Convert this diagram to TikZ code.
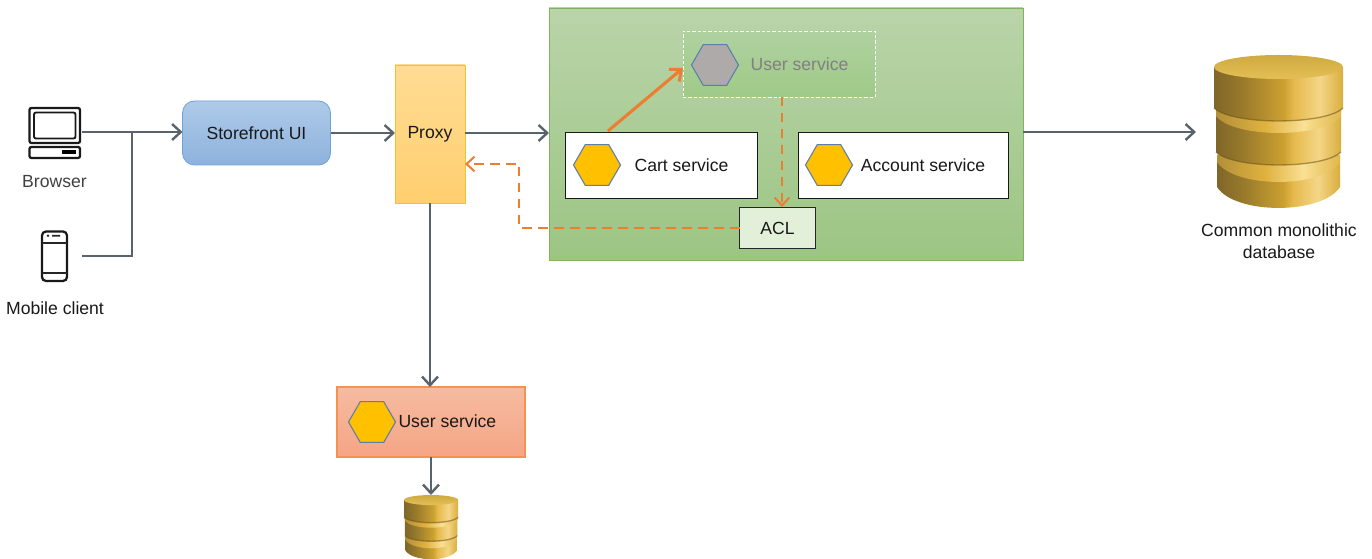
\documentclass[tikz,border=0pt]{standalone}
\usepackage{fontspec}
\setmainfont{Liberation Sans}
\usetikzlibrary{arrows.meta,shapes.geometric,calc}
\def\px{0.75pt}
\definecolor{linegrey}{HTML}{59636E}
\definecolor{accent}{HTML}{ED7D31}
\definecolor{hexgold}{HTML}{FFC000}
\definecolor{hexedge}{HTML}{5B7FA8}
\definecolor{dbtopa}{HTML}{CFAA40}
\definecolor{dbtopb}{HTML}{E3BF55}
\definecolor{dbline}{HTML}{6E5518}
\definecolor{greentop}{HTML}{B9D4A9}
\definecolor{greenbot}{HTML}{9CC583}
\definecolor{greenedge}{HTML}{7FB35F}
\definecolor{storetop}{HTML}{AECAE8}
\definecolor{storebot}{HTML}{8EB2DD}
\definecolor{storeedge}{HTML}{6FA3D8}
\definecolor{proxytop}{HTML}{FFDC93}
\definecolor{proxybot}{HTML}{FFCF70}
\definecolor{proxyedge}{HTML}{F2C230}
\definecolor{usertop}{HTML}{F6BBA0}
\definecolor{userbot}{HTML}{F5A585}
\definecolor{useredge}{HTML}{F5924F}
\definecolor{dashtop}{HTML}{B0D1A0}
\definecolor{dashbot}{HTML}{9FCA87}
\definecolor{ghostfill}{HTML}{AEAAAA}
\definecolor{aclfill}{HTML}{E2EFD9}
\pgfdeclarehorizontalshading{dbbody}{100bp}{
  rgb(0bp)=(0.50,0.40,0.16);
  rgb(25bp)=(0.50,0.40,0.16);
  rgb(36bp)=(0.60,0.48,0.17);
  rgb(52bp)=(0.80,0.63,0.19);
  rgb(56bp)=(0.90,0.73,0.30);
  rgb(66bp)=(0.96,0.84,0.53);
  rgb(75bp)=(0.85,0.68,0.24);
  rgb(100bp)=(0.85,0.68,0.24)}
\pgfdeclarehorizontalshading{dbrim}{100bp}{
  rgb(0bp)=(0.70,0.56,0.22);
  rgb(25bp)=(0.70,0.56,0.22);
  rgb(45bp)=(0.88,0.70,0.25);
  rgb(60bp)=(0.98,0.88,0.58);
  rgb(75bp)=(0.88,0.72,0.30);
  rgb(100bp)=(0.88,0.72,0.30)}
\newcommand\dbband[5]{\shade[shading=#5] (#1,#2) -- (#1,#3)
   .. controls (#1+18,#3+#4*1.33) and (129-#1-18,#3+#4*1.33) .. (129-#1,#3)
   -- (129-#1,#2) -- cycle;}
\newcommand\dbdrawing{%
    \dbband{3}{100}{132}{21}{dbbody}
    \dbband{3}{100}{107}{20}{dbrim}
    \dbband{2}{55}{97}{13}{dbbody}
    \draw[dbline,line width=1pt,opacity=.55] (2,97) .. controls (20,97+13*1.33) and (109,97+13*1.33) .. (127,97);
    \dbband{2}{55}{61}{17}{dbrim}
    \dbband{0}{12}{53}{13}{dbbody}
    \draw[dbline,line width=1pt,opacity=.55] (0,53) .. controls (18,53+13*1.33) and (111,53+13*1.33) .. (129,53);
    \shade[top color=dbtopa,bottom color=dbtopb] (64.5,12) ellipse [x radius=64.5,y radius=12];
}
\tikzset{
  every node/.style={outer sep=0pt,inner sep=0pt},
  lbl/.style={font=\fontsize{13.2}{16}\selectfont,text=black!90},
  conn/.style={draw=linegrey,line width=1.5pt,-{Straight Barb[length=6.5pt,width=12pt,line width=1.8pt]}},
  plain/.style={draw=linegrey,line width=1.5pt},
  orangearrow/.style={draw=accent,line width=2.3pt,-{Straight Barb[length=7pt,width=12pt,line width=2.2pt]}},
  orangedash/.style={draw=accent,line width=1.8pt,dash pattern=on 7pt off 5pt,-{Straight Barb[length=6pt,width=11pt,line width=1.5pt]}},
  hexa/.style={regular polygon,regular polygon sides=6,minimum size=47*\px,fill=hexgold,draw=hexedge,line width=0.8pt},
  whitebox/.style={rectangle,draw=black!90,line width=0.6pt,fill=white},
  icon/.style={draw=black!90,line width=1.7pt,rounded corners=1.5pt}
}
\begin{document}
\begin{tikzpicture}[x=0.75pt,y=-0.75pt]
\useasboundingbox (0,0) rectangle (1372,559);
% nodes
\node[rectangle,minimum width=474*\px,minimum height=252*\px,top color=greentop,bottom color=greenbot,draw=greenedge,line width=0.6pt] (green) at (786,134) {};
\node[rectangle,minimum width=148*\px,minimum height=64*\px,rounded corners=9pt,top color=storetop,bottom color=storebot,draw=storeedge,line width=0.6pt,lbl] (storefront) at (256.5,133) {\raisebox{-0.7pt}{Storefront UI}};
\node[rectangle,minimum width=70*\px,minimum height=138*\px,top color=proxytop,bottom color=proxybot,draw=proxyedge,line width=0.6pt,lbl] (proxy) at (430,134) {\raisebox{-1.2pt}{Proxy}};
\node[rectangle,minimum width=188*\px,minimum height=70*\px,top color=usertop,bottom color=userbot,draw=useredge,line width=0.9pt] (userbox) at (431,422) {};
\node[lbl,anchor=west] (usertext) at (398.5,421) {User service};
\node[hexa] (userhex) at (372,422) {};
\node[rectangle,minimum width=192*\px,minimum height=66*\px,top color=dashtop,bottom color=dashbot,draw=white,line width=0.7pt,dash pattern=on 2.5pt off 1.5pt] (ghost) at (779,64) {};
\node[hexa,fill=ghostfill] (ghosthex) at (715,65) {};
\node[lbl,text=black!50] (ghosttext) at (799.5,64) {User service};
\node[whitebox,minimum width=192*\px,minimum height=66*\px] (cart) at (661,165) {};
\node[hexa] (carthex) at (597,165) {};
\node[lbl] (carttext) at (681.5,165) {Cart service};
\node[whitebox,minimum width=210*\px,minimum height=66*\px] (account) at (903,165) {};
\node[hexa] (accounthex) at (829,165) {};
\node[lbl] (accounttext) at (923,165) {Account service};
\node[rectangle,draw=black!85,line width=0.6pt,fill=aclfill,minimum width=76*\px,minimum height=41*\px,lbl] (acl) at (777.5,228) {ACL};
% icons
\node[minimum width=54*\px,minimum height=52*\px] (browsericon) at (55,132) {};
\node[lbl,text=black!75] (browserlabel) at (54.5,182) {Browser};
\draw[icon] (29.5,108) rectangle (80,143);
\draw[icon,line width=1.4pt] (34,112.5) rectangle (75.5,138.5);
\draw[icon] (29.5,147) rectangle (80,158);
\fill[black] (62,150.5) rectangle (76,154.5);
\node[minimum width=54*\px,minimum height=52*\px] (phoneicon) at (55,256) {};
\node[lbl] (mobilelabel) at (55,308) {Mobile client};
\draw[icon,rounded corners=3pt] (42,231.5) rectangle (67,281);
\draw[black!85,line width=0.9pt] (42,243) -- (67,243) (42,273) -- (67,273);
\fill[black!85] (48,235.8) circle [radius=1.3] (52,235) rectangle (60,236.6);
% databases
\begin{scope}[shift={(1214,55)}]\dbdrawing\end{scope}
\node[minimum width=129*\px,minimum height=153*\px] (bigdb) at (1278.5,131.5) {};
\node[lbl,align=center,font=\fontsize{13.2}{16.5}\selectfont] (dblabel) at (1279,241) {Common monolithic\\database};
\begin{scope}[shift={(404,495)},x=0.315pt,y=-0.315pt]\dbdrawing\end{scope}
\node[minimum width=54*\px,minimum height=64*\px] (smalldb) at (431,527) {};
% connectors
\coordinate (junction) at (132,132);
\coordinate (bigdbend) at (1196,132);
\coordinate (cartout) at (608,131);
\coordinate (ghostin) at (683,68);
\coordinate (ghostout) at (782,97);
\coordinate (aclin) at (782,207);
\coordinate (aclturn) at (519,228);
\coordinate (proxyturn) at (519,164);
\draw[conn] (browsericon.east) -- (storefront.west |- browsericon.east);
\draw[plain] (phoneicon.east) -| (junction);
\draw[conn] (storefront.east) -- (proxy.west |- storefront.east);
\draw[conn] (proxy.east |- storefront.east) -- (green.west |- storefront.east);
\draw[conn] (green.east |- bigdbend) -- (bigdbend);
\draw[conn] (proxy.south) -- (proxy.south |- userbox.north);
\draw[conn] (userbox.south) -- (smalldb.north);
\draw[orangearrow] (cartout) -- (ghostin);
\draw[orangedash] (acl.west |- aclturn) -- (aclturn) -- (proxyturn) -- (proxy.east |- proxyturn);
\draw[orangedash] (ghostout) -- (aclin);
\end{tikzpicture}
\end{document}
